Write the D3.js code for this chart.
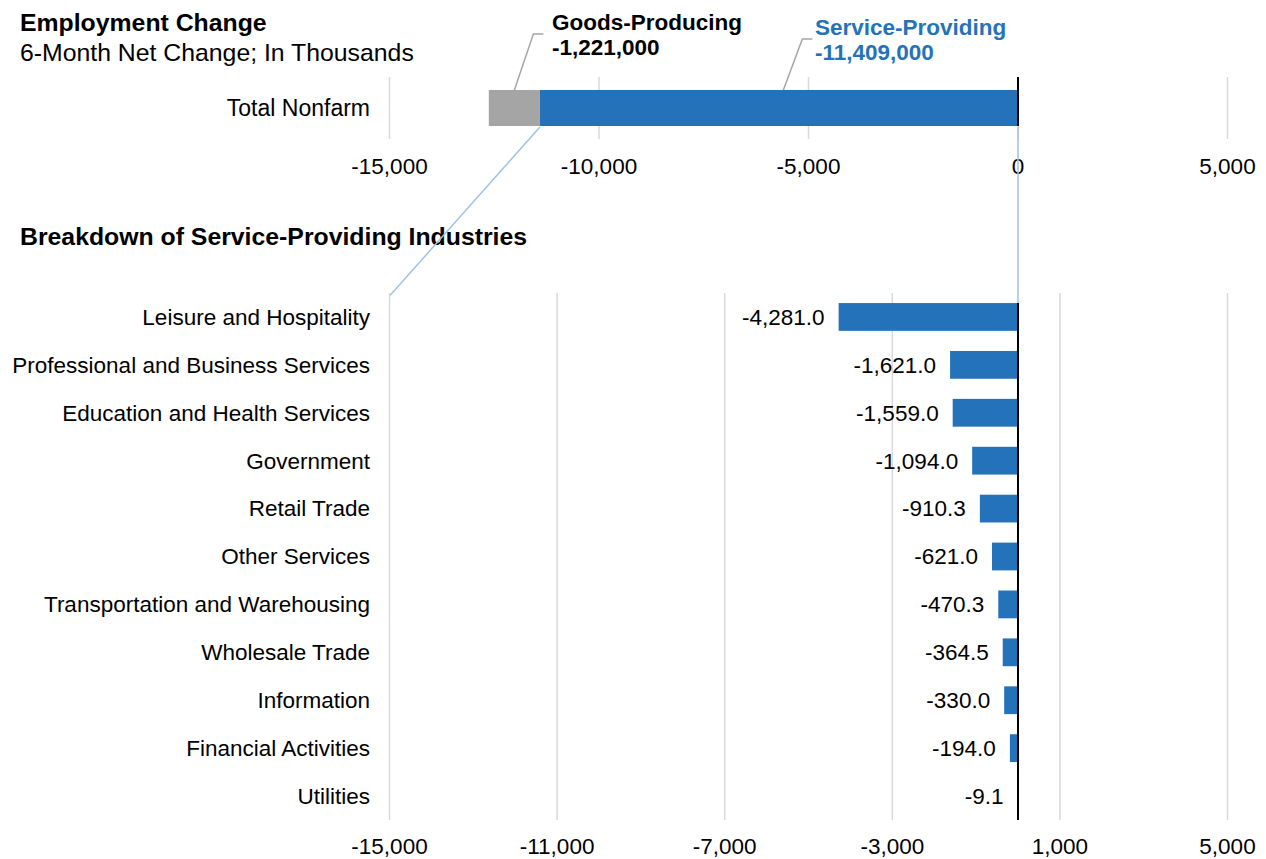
<!DOCTYPE html>
<html>
<head>
<meta charset="utf-8">
<script src="https://cdn.jsdelivr.net/npm/d3@7"></script>
<style>
  html, body { margin: 0; padding: 0; background: #ffffff; }
  svg { display: block; font-family: "Liberation Sans", Arial, sans-serif; }
</style>
</head>
<body>
<svg id="chart" width="1266" height="859"></svg>
<script>
// Total nonfarm split (thousands)
const totalCategory = ["Total Nonfarm"];
const totalSegments = ["Service-Providing", "Goods-Producing"];
const totalValues = [-11409, -1221];
const totalLabels = ["-11,409,000", "-1,221,000"];

// Service-providing industries breakdown (thousands)
const industries = [
  "Leisure and Hospitality",
  "Professional and Business Services",
  "Education and Health Services",
  "Government",
  "Retail Trade",
  "Other Services",
  "Transportation and Warehousing",
  "Wholesale Trade",
  "Information",
  "Financial Activities",
  "Utilities"
];
const industryValues = [-4281.0, -1621.0, -1559.0, -1094.0, -910.3, -621.0, -470.3, -364.5, -330.0, -194.0, -9.1];

const topTicks = [-15000, -10000, -5000, 0, 5000];
const bottomTicks = [-15000, -11000, -7000, -3000, 1000, 5000];

const BLUE = "#2473ba";
const GRAY = "#a5a5a5";
const GRID = "#d9d9d9";
const LINK = "#9dc3e6";
const FS = 22.5;
const TITLE_FS = 24.8;

const svg = d3.select("#chart");

const x = d3.scaleLinear().domain([-15000, 5000]).range([389.5, 1227.5]);
const fmtTick = d3.format(",");
const fmtVal = d3.format(",.1f");

// ---------- Titles ----------
svg.append("text").attr("x", 20).attr("y", 31)
  .attr("font-size", TITLE_FS).attr("font-weight", "bold").attr("fill", "#000")
  .text("Employment Change");
svg.append("text").attr("x", 20).attr("y", 61)
  .attr("font-size", TITLE_FS).attr("fill", "#000")
  .text("6-Month Net Change; In Thousands");
svg.append("text").attr("x", 20).attr("y", 245)
  .attr("font-size", TITLE_FS).attr("font-weight", "bold").attr("fill", "#000")
  .text("Breakdown of Service-Providing Industries");

// ---------- Top chart: stacked total ----------
const yTop = d3.scaleBand().domain(totalCategory).range([77, 139]).padding(0.265);

const gTop = svg.append("g");
gTop.selectAll("line.grid").data(topTicks).join("line")
  .attr("class", "grid")
  .attr("x1", d => x(d)).attr("x2", d => x(d))
  .attr("y1", 77).attr("y2", 139)
  .attr("stroke", GRID).attr("stroke-width", 1.5);

// stack segments leftwards from zero
let acc = 0;
const segs = totalValues.map((v, i) => {
  const s = { name: totalSegments[i], x0: acc, x1: acc + v, label: totalLabels[i] };
  acc += v;
  return s;
});
gTop.selectAll("rect.seg").data(segs).join("rect")
  .attr("class", "seg")
  .attr("x", d => x(d.x1))
  .attr("width", d => x(d.x0) - x(d.x1))
  .attr("y", yTop("Total Nonfarm"))
  .attr("height", yTop.bandwidth())
  .attr("fill", (d, i) => i === 0 ? BLUE : GRAY);

// zero axis
gTop.append("line")
  .attr("x1", x(0)).attr("x2", x(0))
  .attr("y1", 77).attr("y2", yTop("Total Nonfarm") + yTop.bandwidth())
  .attr("stroke", "#000").attr("stroke-width", 2);

gTop.append("text")
  .attr("x", 370).attr("y", yTop("Total Nonfarm") + yTop.bandwidth() / 2)
  .attr("dy", "0.35em").attr("text-anchor", "end")
  .attr("font-size", 23).attr("fill", "#000").text("Total Nonfarm");

gTop.selectAll("text.tick").data(topTicks).join("text")
  .attr("class", "tick")
  .attr("x", d => x(d)).attr("y", 174)
  .attr("text-anchor", "middle").attr("font-size", FS).attr("fill", "#000")
  .text(d => fmtTick(d).replace("−", "-"));

// callouts for the two segments
const barTop = yTop("Total Nonfarm");
const callouts = [
  { seg: segs[1], px: x((segs[1].x0 + segs[1].x1) / 2), elbowY: 34, tx: 552, y1: 30, y2: 55, color: "#000" },
  { seg: segs[0], px: x(-5600), elbowY: 39, tx: 815, y1: 35, y2: 60, color: BLUE }
];
callouts.forEach(c => {
  gTop.append("polyline")
    .attr("points", [[c.px, barTop], [c.px + 19, c.elbowY], [c.px + 29, c.elbowY]].map(p => p.join(",")).join(" "))
    .attr("fill", "none").attr("stroke", "#a6a6a6").attr("stroke-width", 1.5);
  gTop.append("text").attr("x", c.tx).attr("y", c.y1)
    .attr("font-size", FS).attr("font-weight", "bold").attr("fill", c.color)
    .text(c.seg.name);
  gTop.append("text").attr("x", c.tx).attr("y", c.y2)
    .attr("font-size", FS).attr("font-weight", "bold").attr("fill", c.color)
    .text(c.seg.label);
});

// ---------- Bottom chart: industries ----------
const yBot = d3.scaleBand().domain(industries).range([293, 820])
  .paddingInner(0.42).paddingOuter(0.21);

// connector lines from the service-providing segment to the breakdown
const gLink = svg.append("g");
gLink.append("line")
  .attr("x1", x(segs[0].x1)).attr("y1", barTop + yTop.bandwidth() + 1)
  .attr("x2", x(-15000)).attr("y2", 296)
  .attr("stroke", LINK).attr("stroke-width", 1.5);
gLink.append("line")
  .attr("x1", x(0)).attr("y1", barTop + yTop.bandwidth() + 1)
  .attr("x2", x(0)).attr("y2", 303)
  .attr("stroke", LINK).attr("stroke-width", 1.5);

const gBot = svg.append("g");
gBot.selectAll("line.grid").data(bottomTicks).join("line")
  .attr("class", "grid")
  .attr("x1", d => x(d)).attr("x2", d => x(d))
  .attr("y1", 293).attr("y2", 820)
  .attr("stroke", GRID).attr("stroke-width", 1.5);

const rows = industries.map((name, i) => ({ name, value: industryValues[i] }));

gBot.selectAll("rect.bar").data(rows).join("rect")
  .attr("class", "bar")
  .attr("x", d => x(Math.min(0, d.value)))
  .attr("width", d => Math.abs(x(d.value) - x(0)))
  .attr("y", d => yBot(d.name))
  .attr("height", yBot.bandwidth())
  .attr("fill", BLUE);

gBot.append("line")
  .attr("x1", x(0)).attr("x2", x(0))
  .attr("y1", 303).attr("y2", 820)
  .attr("stroke", "#000").attr("stroke-width", 2);

gBot.selectAll("text.cat").data(rows).join("text")
  .attr("class", "cat")
  .attr("x", 370).attr("y", d => yBot(d.name) + yBot.bandwidth() / 2)
  .attr("dy", "0.35em").attr("text-anchor", "end")
  .attr("font-size", FS).attr("fill", "#000").text(d => d.name);

gBot.selectAll("text.val").data(rows).join("text")
  .attr("class", "val")
  .attr("x", d => x(d.value) - 14).attr("y", d => yBot(d.name) + yBot.bandwidth() / 2)
  .attr("dy", "0.35em").attr("text-anchor", "end")
  .attr("font-size", FS).attr("fill", "#000").text(d => fmtVal(d.value).replace("−", "-"));

gBot.selectAll("text.tick").data(bottomTicks).join("text")
  .attr("class", "tick")
  .attr("x", d => x(d)).attr("y", 854)
  .attr("text-anchor", "middle").attr("font-size", FS).attr("fill", "#000")
  .text(d => fmtTick(d).replace("−", "-"));
</script>
</body>
</html>
